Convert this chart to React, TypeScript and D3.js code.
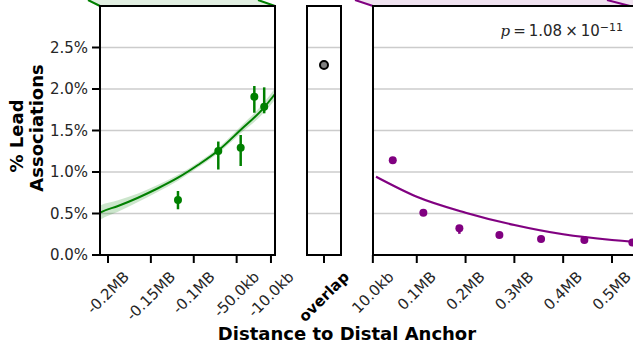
import React from 'react';
import * as d3 from 'd3';

const W = 633;
const H = 348;

// y axis
const yTicks = [0, 0.5, 1.0, 1.5, 2.0, 2.5];
const yTickLabels = ['0.0%', '0.5%', '1.0%', '1.5%', '2.0%', '2.5%'];

// upstream (left) panel, values in MB
const upTicks = [-0.2, -0.15, -0.1, -0.05, -0.01];
const upTickLabels = ['-0.2MB', '-0.15MB', '-0.1MB', '-50.0kb', '-10.0kb'];
const upX = [-0.1184, -0.0714, -0.0453, -0.0294, -0.0179];
const upY = [0.663, 1.253, 1.293, 1.907, 1.787];
const upLo = [0.551, 1.03, 1.072, 1.714, 1.707];
const upHi = [0.771, 1.367, 1.446, 2.036, 2.02];
const upFitX = [-0.2125, -0.2085, -0.1883, -0.165, -0.1417, -0.1184, -0.0951, -0.0714, -0.0461, -0.0189, -0.0053];
const upFitY = [0.49, 0.514, 0.59, 0.69, 0.804, 0.931, 1.084, 1.259, 1.5, 1.767, 1.94];
const upFitErr = [0.088, 0.085, 0.07, 0.05, 0.042, 0.036, 0.03, 0.032, 0.042, 0.06, 0.07];

// overlap panel
const overlapVal = 2.289;

// downstream (right) panel, values in MB
const downTicks = [0.01, 0.1, 0.2, 0.3, 0.4, 0.5];
const downTickLabels = ['10.0kb', '0.1MB', '0.2MB', '0.3MB', '0.4MB', '0.5MB'];
const downX = [0.0508, 0.1135, 0.1873, 0.2693, 0.3547, 0.4434, 0.5418];
const downY = [1.141, 0.51, 0.322, 0.241, 0.193, 0.181, 0.151];
const downLo = [1.12, 0.485, 0.255, 0.226, 0.181, 0.169, 0.139];
const downHi = [1.162, 0.535, 0.36, 0.256, 0.205, 0.193, 0.163];
const downFitX = [0.0166, 0.1, 0.2, 0.3, 0.4, 0.5, 0.543, 0.6];
const downFitY = [0.943, 0.702, 0.51, 0.361, 0.249, 0.181, 0.16, 0.138];

const pText = { base: '1.08', exp: '\u221211' };

const GREEN = '#008000';
const PURPLE = '#800080';
const GRID = '#cccccc';
const TXT = '#262626';
const FONT = "'DejaVu Sans', sans-serif";

const TOP = 6;
const BOTTOM = 255;

const y = d3.scaleLinear().domain([0, 3.0]).range([BOTTOM, TOP]);
const xUp = d3.scaleLinear().domain([-0.2093, -0.0053]).range([100, 275]);
const xOv = { left: 307, right: 341, center: 324 };
const xDown = d3.scaleLinear().domain([0.0103, 0.0103 + (650 - 373) / 488]).range([373, 650]);

let _ctx: CanvasRenderingContext2D | null = null;
function measure(text: string, font: string) {
  if (!_ctx) {
    const c = document.createElement('canvas');
    _ctx = c.getContext('2d');
  }
  if (!_ctx) return text.length * 8;
  _ctx.font = font;
  return _ctx.measureText(text).width;
}

const TICK_FS = 15;

function RotLabel({ x, text, bold }: { x: number; text: string; bold?: boolean }) {
  const font = `${bold ? 'bold ' : ''}${TICK_FS}px 'DejaVu Sans'`;
  const w = measure(text, font);
  const h = TICK_FS * 1.164;
  const D = (w + h) / Math.SQRT2;
  const cy = 268 + D / 2;
  return (
    <text
      x={x}
      y={cy}
      textAnchor="middle"
      dominantBaseline="central"
      transform={`rotate(-45 ${x} ${cy})`}
      fontSize={TICK_FS}
      fontWeight={bold ? 'bold' : 'normal'}
      fill={bold ? '#000' : TXT}
      fontFamily={FONT}
    >
      {text}
    </text>
  );
}

function Frame({ x0, x1 }: { x0: number; x1: number }) {
  const d = `M${x0},${TOP}H${x1}V${BOTTOM}H${x0}Z`;
  return <path d={d} fill="none" stroke="#000" strokeWidth={2} strokeLinejoin="miter" />;
}

function Grid({ x0, x1 }: { x0: number; x1: number }) {
  return (
    <g>
      {yTicks.filter((t) => t > 0).map((t) => (
        <line key={t} x1={x0} x2={x1} y1={y(t)} y2={y(t)} stroke={GRID} strokeWidth={1.5} />
      ))}
    </g>
  );
}

export default function App() {
  const upFit = upFitX.map((v, i) => ({ x: v, y: upFitY[i], e: upFitErr[i] }));
  const upLine = d3
    .line<{ x: number; y: number }>()
    .x((d) => xUp(d.x))
    .y((d) => y(d.y))
    .curve(d3.curveMonotoneX);
  const upArea = d3
    .area<{ x: number; y: number; e: number }>()
    .x((d) => xUp(d.x))
    .y0((d) => y(d.y - d.e))
    .y1((d) => y(d.y + d.e))
    .curve(d3.curveMonotoneX);

  const downFit = downFitX.map((v, i) => ({ x: v, y: downFitY[i] }));
  const downLine = d3
    .line<{ x: number; y: number }>()
    .x((d) => xDown(d.x))
    .y((d) => y(d.y))
    .curve(d3.curveMonotoneX);
  const downArea = d3
    .area<{ x: number; y: number }>()
    .x((d) => xDown(d.x))
    .y0((d) => y(d.y - 0.015))
    .y1((d) => y(d.y + 0.015))
    .curve(d3.curveMonotoneX);

  return (
    <svg
      width={W}
      height={H}
      viewBox={`0 0 ${W} ${H}`}
      style={{ position: 'fixed', left: 0, top: 0, background: '#fff' }}
    >
      <defs>
        <clipPath id="clipUp">
          <rect x={xUp.range()[0]} y={TOP} width={xUp.range()[1] - xUp.range()[0]} height={BOTTOM - TOP} />
        </clipPath>
        <clipPath id="clipDown">
          <rect x={373} y={TOP} width={300} height={BOTTOM - TOP} />
        </clipPath>
      </defs>
      <rect x={0} y={0} width={W} height={H} fill="#fff" />

      {/* connector shapes at the top */}
      <polygon points="88,0 100,6 275,6 258,0" fill="#e2f0e2" />
      <line x1={88} y1={0} x2={100} y2={6} stroke={GREEN} strokeWidth={2} />
      <line x1={258} y1={0} x2={275} y2={6} stroke={GREEN} strokeWidth={2} />
      <polygon points="355,0 373,6 633,6 633,0" fill="#f0e2f0" />
      <line x1={355} y1={0} x2={373} y2={6} stroke={PURPLE} strokeWidth={2} />
      <line x1={607} y1={0} x2={630} y2={6} stroke={PURPLE} strokeWidth={2} />

      {/* grids */}
      <Grid x0={100} x1={275} />
      <Grid x0={xOv.left} x1={xOv.right} />
      <Grid x0={373} x1={W} />

      {/* left panel */}
      <g clipPath="url(#clipUp)">
        <path d={upArea(upFit) || ''} fill={GREEN} fillOpacity={0.2} stroke="none" />
        <path d={upLine(upFit) || ''} fill="none" stroke={GREEN} strokeWidth={2} />
      </g>
      {upX.map((v, i) => (
        <g key={i}>
          <line x1={xUp(v)} x2={xUp(v)} y1={y(upLo[i])} y2={y(upHi[i])} stroke={GREEN} strokeWidth={2.5} />
          <circle cx={xUp(v)} cy={y(upY[i])} r={4} fill={GREEN} />
        </g>
      ))}

      {/* overlap panel */}
      <circle cx={xOv.center} cy={y(overlapVal)} r={4} fill="#808080" stroke="#000" strokeWidth={2} />

      {/* right panel */}
      <g clipPath="url(#clipDown)">
        <path d={downArea(downFit) || ''} fill={PURPLE} fillOpacity={0.12} stroke="none" />
        <path d={downLine(downFit) || ''} fill="none" stroke={PURPLE} strokeWidth={2} />
      </g>
      {downX.map((v, i) => (
        <g key={i}>
          <line x1={xDown(v)} x2={xDown(v)} y1={y(downLo[i])} y2={y(downHi[i])} stroke={PURPLE} strokeWidth={2.5} />
          <circle cx={xDown(v)} cy={y(downY[i])} r={4} fill={PURPLE} />
        </g>
      ))}

      {/* frames */}
      <Frame x0={100} x1={275} />
      <Frame x0={xOv.left} x1={xOv.right} />
      <Frame x0={373} x1={700} />

      {/* y ticks */}
      {yTicks.map((t, i) => (
        <g key={t}>
          <line x1={92} x2={100} y1={y(t)} y2={y(t)} stroke="#000" strokeWidth={2} />
          <text
            x={88}
            y={y(t)}
            textAnchor="end"
            dominantBaseline="central"
            fontSize={TICK_FS}
            fill={TXT}
            fontFamily={FONT}
          >
            {yTickLabels[i]}
          </text>
        </g>
      ))}

      {/* x ticks */}
      {upTicks.map((t, i) => (
        <g key={'u' + t}>
          <line x1={xUp(t)} x2={xUp(t)} y1={BOTTOM} y2={BOTTOM + 8} stroke="#000" strokeWidth={2} />
          <RotLabel x={xUp(t)} text={upTickLabels[i]} />
        </g>
      ))}
      <line x1={xOv.center} x2={xOv.center} y1={BOTTOM} y2={BOTTOM + 8} stroke="#000" strokeWidth={2} />
      <RotLabel x={xOv.center} text="overlap" bold />
      {downTicks.map((t, i) => (
        <g key={'d' + t}>
          <line x1={xDown(t)} x2={xDown(t)} y1={BOTTOM} y2={BOTTOM + 8} stroke="#000" strokeWidth={2} />
          <RotLabel x={xDown(t)} text={downTickLabels[i]} />
        </g>
      ))}

      {/* p value */}
      <text x={623} y={36} textAnchor="end" fontSize={15} fill={TXT} fontFamily={FONT}>
        <tspan fontStyle="italic" fontFamily="'DejaVu Serif', serif">p</tspan>
        <tspan>{`\u2009=\u2009${pText.base}\u2009\u00d7\u200910`}</tspan>
        <tspan fontSize={11} dy={-5.5}>{pText.exp}</tspan>
      </text>

      {/* axis labels */}
      <text
        transform="translate(23,136) rotate(-90)"
        textAnchor="middle"
        fontSize={18}
        fontWeight="bold"
        fill="#000"
        fontFamily={FONT}
      >
        % Lead
      </text>
      <text
        transform="translate(43,128) rotate(-90)"
        textAnchor="middle"
        fontSize={18}
        fontWeight="bold"
        fill="#000"
        fontFamily={FONT}
      >
        Associations
      </text>
      <text x={347} y={340} textAnchor="middle" fontSize={18} fontWeight="bold" fill="#000" fontFamily={FONT}>
        Distance to Distal Anchor
      </text>
    </svg>
  );
}
